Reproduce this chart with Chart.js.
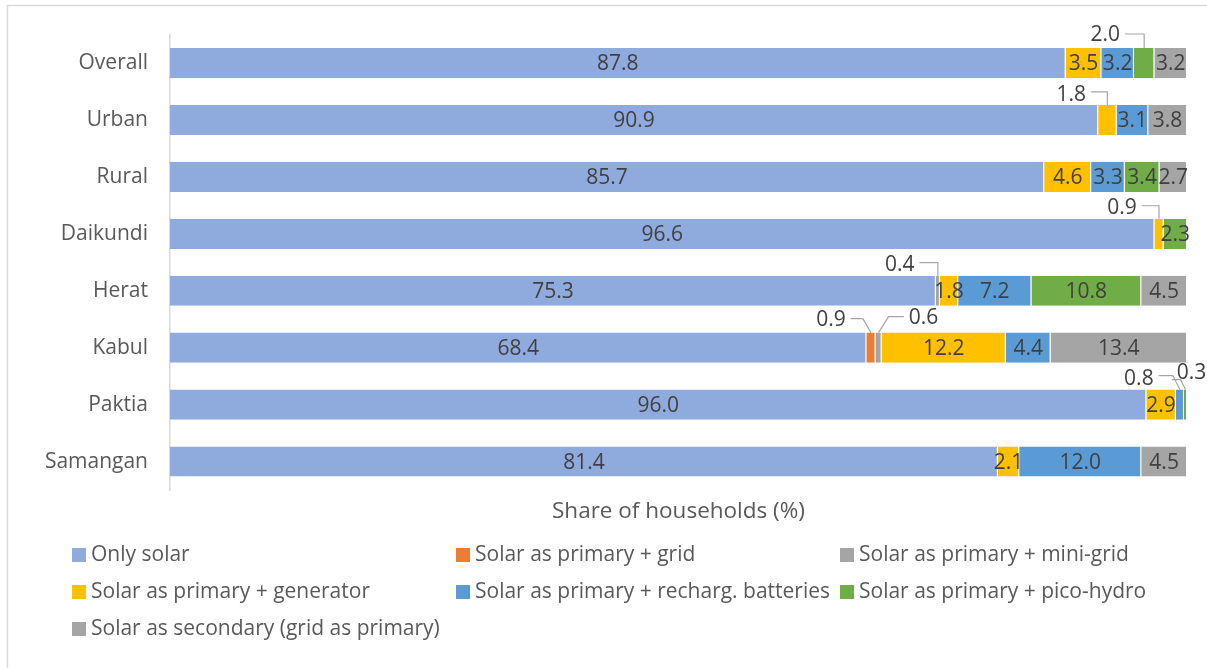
<!DOCTYPE html>
<html>
<head>
<meta charset="utf-8">
<script src="https://cdn.jsdelivr.net/npm/chart.js@4"></script>
<style>
  html, body { margin: 0; padding: 0; background: #fff; }
  #wrap { position: relative; width: 1207px; height: 668px; }
</style>
</head>
<body>
<div id="wrap"><canvas id="solarChart"></canvas></div>
<script>
// provinces / groups on the category axis
const categories = ['Overall', 'Urban', 'Rural', 'Daikundi', 'Herat', 'Kabul', 'Paktia', 'Samangan'];

// share of households per usage pattern (%)
const onlySolar      = [87.8, 90.9, 85.7, 96.6, 75.3, 68.4, 96.0, 81.4];
const withGrid       = [0, 0, 0, 0, 0, 0.9, 0, 0];
const withMiniGrid   = [0, 0, 0, 0, 0.4, 0.6, 0, 0];
const withGenerator  = [3.5, 1.8, 4.6, 0.9, 1.8, 12.2, 2.9, 2.1];
const withBatteries  = [3.2, 3.1, 3.3, 0, 7.2, 4.4, 0.8, 12.0];
const withPicoHydro  = [2.0, 0, 3.4, 2.3, 10.8, 0, 0.3, 0];
const solarSecondary = [3.2, 3.8, 2.7, 0, 4.5, 13.4, 0, 4.5];

const seriesNames = [
  'Only solar',
  'Solar as primary + grid',
  'Solar as primary + mini-grid',
  'Solar as primary + generator',
  'Solar as primary + recharg. batteries',
  'Solar as primary + pico-hydro',
  'Solar as secondary (grid as primary)'
];
const seriesValues = [onlySolar, withGrid, withMiniGrid, withGenerator, withBatteries, withPicoHydro, solarSecondary];
const seriesColors = ['#8FAADC', '#ED7D31', '#A5A5A5', '#FFC000', '#5B9BD5', '#70AD47', '#A5A5A5'];

// small segments get their label outside with a leader line
// key: category index + series index; offsets relative to segment centre / bar top
const callouts = {
  '0-5': { lx: -39, ly: -13, ex: 0, ey: -14 },
  '1-3': { lx: -36, ly: -10, ex: 0, ey: -13 },
  '3-3': { lx: -37, ly: -11, ex: 0, ey: -13 },
  '4-2': { lx: -38, ly: -11, ex: 0, ey: -13 },
  '5-1': { lx: -40, ly: -13, ex: -8, ey: -14 },
  '5-2': { lx: 45, ly: -15, ex: 10, ey: -16 },
  '6-4': { lx: -41, ly: -11, ex: -7, ey: -14 },
  '6-5': { lx: 6, ly: -17, ex: -5, ey: -10 }
};

const FONT = '"Open Sans", sans-serif';
const totals = categories.map((_, i) => seriesValues.reduce((s, arr) => s + arr[i], 0));

const datasets = seriesNames.map((name, k) => ({
  label: name,
  data: seriesValues[k].map((v, i) => v / totals[i] * 100),
  raw: seriesValues[k],
  backgroundColor: seriesColors[k],
  borderColor: '#ffffff',
  borderWidth: { top: 0, bottom: 0, left: 0, right: 1 },
  borderSkipped: false,
  barPercentage: 0.53,
  categoryPercentage: 1
}));

const frame = {
  id: 'frame',
  beforeDraw(chart) {
    const ctx = chart.ctx;
    ctx.save();
    ctx.strokeStyle = '#d9d9d9';
    ctx.lineWidth = 1.5;
    ctx.strokeRect(7.5, 5.5, 1230, 700);
    ctx.restore();
  }
};

const barLabels = {
  id: 'barLabels',
  afterDatasetsDraw(chart) {
    const ctx = chart.ctx;
    ctx.save();
    ctx.font = '21px ' + FONT;
    ctx.textBaseline = 'middle';
    ctx.textAlign = 'center';
    chart.data.datasets.forEach((ds, k) => {
      const meta = chart.getDatasetMeta(k);
      meta.data.forEach((bar, i) => {
        const v = ds.raw[i];
        if (!v) return;
        const text = v.toFixed(1);
        const cx = (bar.x + bar.base) / 2;
        const top = bar.y - bar.height / 2;
        const c = callouts[i + '-' + k];
        ctx.fillStyle = '#404040';
        if (!c) {
          ctx.fillText(text, cx, bar.y + 1);
          return;
        }
        const lx = cx + c.lx, ly = top + c.ly;
        ctx.fillText(text, lx, ly);
        const half = ctx.measureText(text).width / 2;
        const sx = c.lx < 0 ? lx + half + 5 : lx - half - 5;
        ctx.strokeStyle = '#a6a6a6';
        ctx.lineWidth = 1.2;
        ctx.beginPath();
        ctx.moveTo(sx, top + c.ey);
        ctx.lineTo(cx + c.ex, top + c.ey);
        ctx.lineTo(cx, top);
        ctx.stroke();
      });
    });
    ctx.restore();
  }
};

// three-column legend under the axis title
const gridLegend = {
  id: 'gridLegend',
  afterDraw(chart) {
    const ctx = chart.ctx;
    const colX = [72, 456, 840];
    const rowY = [555, 592, 629];
    ctx.save();
    ctx.font = '21px ' + FONT;
    ctx.textBaseline = 'middle';
    ctx.textAlign = 'left';
    chart.data.datasets.forEach((ds, k) => {
      const x = colX[k % 3], y = rowY[Math.floor(k / 3)];
      ctx.fillStyle = ds.backgroundColor;
      ctx.fillRect(x, y - 7, 14, 14);
      ctx.fillStyle = '#595959';
      ctx.fillText(ds.label, x + 19, y);
    });
    ctx.restore();
  }
};

new Chart(document.getElementById('solarChart'), {
  type: 'bar',
  data: { labels: categories, datasets },
  plugins: [frame, barLabels, gridLegend],
  options: {
    indexAxis: 'y',
    responsive: true,
    maintainAspectRatio: false,
    animation: false,
    layout: { padding: { left: 0, top: 33, right: 20, bottom: 139 } },
    plugins: { legend: { display: false }, tooltip: { enabled: false } },
    scales: {
      x: {
        stacked: true, min: 0, max: 100,
        grid: { display: false, drawTicks: false },
        border: { display: false },
        ticks: { display: false },
        title: {
          display: true, text: 'Share of households (%)', color: '#595959',
          font: { family: FONT, size: 22.5 }, padding: { top: 8, bottom: 4 }
        }
      },
      y: {
        stacked: true,
        grid: { display: false, drawTicks: false },
        border: { display: true, color: '#d9d9d9', width: 1.5 },
        ticks: { color: '#595959', font: { family: FONT, size: 21 }, padding: 22 },
        afterFit(scale) { scale.width = 170; }
      }
    }
  }
});
</script>
</body>
</html>
